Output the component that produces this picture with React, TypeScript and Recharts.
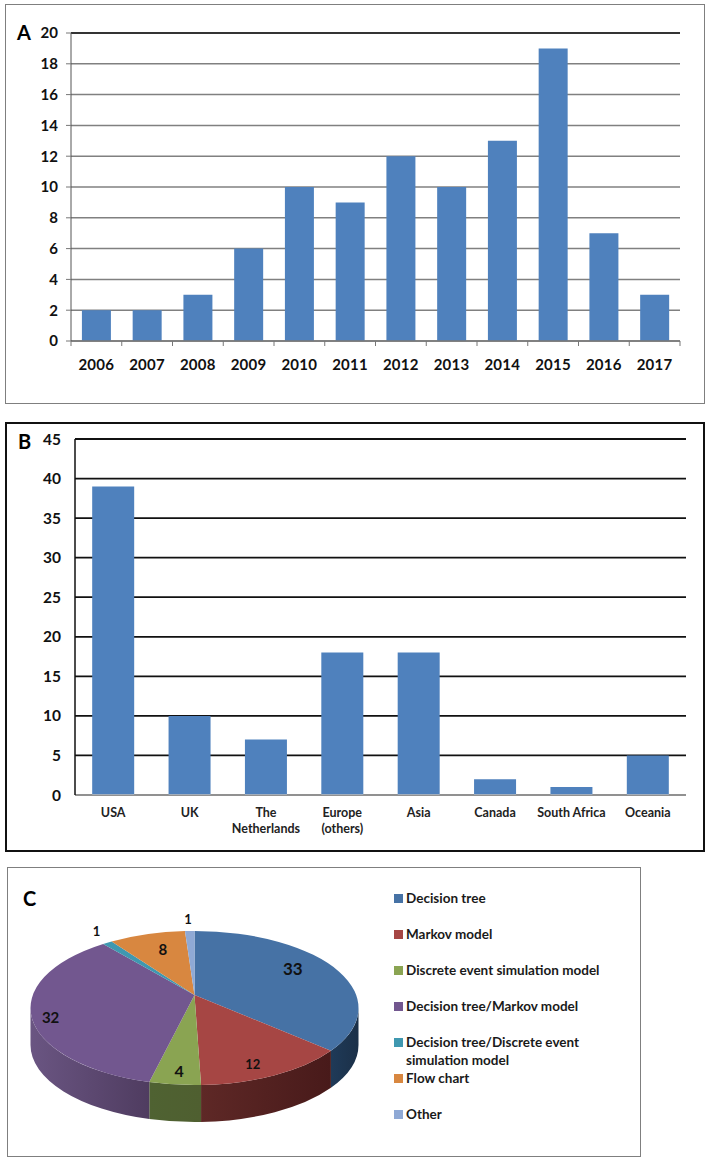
import React from "react";
import { BarChart, Bar, XAxis, YAxis, CartesianGrid, ReferenceLine, PieChart, Pie, Legend } from "recharts";

const yearCategories = ["2006","2007","2008","2009","2010","2011","2012","2013","2014","2015","2016","2017"];
const yearValues = [2,2,3,6,10,9,12,10,13,19,7,3];
const yearTicks = [0,2,4,6,8,10,12,14,16,18,20];

const regionCategories = ["USA","UK","The\nNetherlands","Europe\n(others)","Asia","Canada","South Africa","Oceania"];
const regionValues = [39,10,7,18,18,2,1,5];
const regionTicks = [0,5,10,15,20,25,30,35,40,45];

const modelNames = ["Decision tree","Markov model","Discrete event simulation model","Decision tree/Markov model","Decision tree/Discrete event simulation model","Flow chart","Other"];
const modelValues = [33,12,4,32,1,8,1];
const modelColors = ["#4672A5","#A64644","#8AA452","#72578F","#3F98B0","#D88740","#8FA9D5"];
const modelSideFrom = ["#1f3a58","#5e2826","#4f6232","#6a5582","#2a6676","#8a5526","#5f7295"];
const modelSideTo = ["#1b3048","#481a1a","#4f5f30","#4f3c60","#2a6676","#8a5526","#5f7295"];
const labelFactorX = [0.66,0.82,0.91,0.90,0.98,0.57,1.14];
const labelFactorY = [1.23,0.81,0.82,0.52,1.26,0.81,1.16];
const labelSizes = [17,13,16,15,13,15,13];

const yearData = yearCategories.map((c, i) => ({ c, v: yearValues[i] }));
const regionData = regionCategories.map((c, i) => ({ c, v: regionValues[i] }));
const modelData = modelNames.map((name, i) => ({ name, value: modelValues[i], fill: modelColors[i] }));

const FONT = "Lato, 'Open Sans', sans-serif";
const BLUE = "#4F81BD";
const W = 708;

const frame = (left: number, top: number, width: number, height: number, color: string, bw: number): React.CSSProperties => ({
  position: "absolute", left, top, width, height, border: `${bw}px solid ${color}`, boxSizing: "border-box",
});
const letter = (left: number, top: number): React.CSSProperties => ({
  position: "absolute", left, top, fontFamily: FONT, fontWeight: 700, fontSize: 20, lineHeight: "20px", color: "#000",
});

const YearTick = (p: any) => {
  const half = 609 / yearCategories.length / 2;
  return (
    <g>
      <line x1={p.x - half} x2={p.x - half} y1={p.y} y2={p.y + 5} stroke="#777" />
      {p.index === yearCategories.length - 1 && <line x1={p.x + half} x2={p.x + half} y1={p.y} y2={p.y + 5} stroke="#777" />}
      <text x={p.x} y={p.y + 29} textAnchor="middle" fontFamily={FONT} fontWeight={700} fontSize={15} letterSpacing={0.3} fill="#111">{p.payload.value}</text>
    </g>
  );
};

const RegionTick = (p: any) => {
  const lines = String(p.payload.value).split("\n");
  return (
    <text textAnchor="middle" fontFamily={FONT} fontWeight={700} fontSize={12.5} fill="#222">
      {lines.map((l, i) => <tspan key={i} x={p.x} y={p.y + 22 + i * 15.5}>{l}</tspan>)}
    </text>
  );
};

const RY_RATIO = 0.47;
const APEX_UP = 13;
const DEPTH = 37;
const PERSPECTIVE_DEG = 9;

// Perspective of the tilted disc: the near half of the pie looks wider than the far half.
const project = (t: number) => t - PERSPECTIVE_DEG * Math.sin((t * Math.PI) / 180);

const Slice3D = (p: any) => {
  const rx = p.outerRadius, ry = rx * RY_RATIO;
  const t0 = project(90 - p.startAngle), t1 = project(90 - p.endAngle);
  const pt = (t: number) => {
    const r = (t * Math.PI) / 180;
    return [p.cx + rx * Math.sin(r), p.cy - ry * Math.cos(r)];
  };
  const [sx, sy] = pt(t0);
  const [ex, ey] = pt(t1);
  const large = t1 - t0 > 180 ? 1 : 0;
  const a0 = Math.max(t0, 90), a1 = Math.min(t1, 270);
  const id = `side-${p.index}`;
  let side = null;
  if (a1 > a0) {
    const [bx, by] = pt(a0);
    const [fx, fy] = pt(a1);
    const l = a1 - a0 > 180 ? 1 : 0;
    side = (
      <>
        <defs>
          <linearGradient id={id} x1="0" x2="1" y1="0" y2="0">
            <stop offset="0" stopColor={modelSideFrom[p.index]} />
            <stop offset="1" stopColor={modelSideTo[p.index]} />
          </linearGradient>
        </defs>
        <path d={`M${bx},${by} A${rx},${ry} 0 ${l} 1 ${fx},${fy} L${fx},${fy + DEPTH} A${rx},${ry} 0 ${l} 0 ${bx},${by + DEPTH} Z`} fill={`url(#${id})`} />
      </>
    );
  }
  return (
    <g>
      {side}
      <path d={`M${p.cx},${p.cy - APEX_UP} L${sx},${sy} A${rx},${ry} 0 ${large} 1 ${ex},${ey} Z`} fill={p.fill} />
    </g>
  );
};

const sliceLabel = (p: any) => {
  const rx = p.outerRadius, ry = rx * RY_RATIO;
  const r = ((90 - p.midAngle) * Math.PI) / 180;
  const x = p.cx + labelFactorX[p.index] * rx * Math.sin(r);
  const y = p.cy - labelFactorY[p.index] * ry * Math.cos(r);
  return (
    <text x={x} y={y} textAnchor="middle" dominantBaseline="central" fontFamily={FONT} fontWeight={700} fontSize={labelSizes[p.index]} fill="#111">{p.value}</text>
  );
};

const LegendRows = ({ payload }: any) => (
  <div style={{ fontFamily: FONT, fontWeight: 700, fontSize: 13.5, lineHeight: "18px", color: "#1a1a1a" }}>
    {(payload || []).map((e: any, i: number) => (
      <div key={i} style={{ position: "relative", paddingLeft: 12, width: 212, height: 36 }}>
        <span style={{ position: "absolute", left: 0, top: 5, width: 8.5, height: 8.5, background: e.color }} />
        {e.value}
      </div>
    ))}
  </div>
);

export default function App() {
  return (
    <div style={{ position: "absolute", left: 0, top: 0, width: W, height: 1163, background: "#fff", overflow: "hidden" }}>
      <div style={frame(5, 4, 700, 400, "#7f7f7f", 1.5)} />
      <div style={frame(5, 422, 700, 430, "#111", 2)} />
      <div style={frame(7, 867, 634, 290, "#7f7f7f", 1.5)} />
      <div style={letter(17, 22)}>A</div>
      <div style={letter(18, 431)}>B</div>
      <div style={letter(23, 888)}>C</div>

      <div style={{ position: "absolute", left: 0, top: 0 }}>
        <BarChart width={W} height={410} data={yearData} margin={{ top: 33, right: 28, bottom: 0, left: 0 }} barCategoryGap="21.5%">
          <CartesianGrid vertical={false} stroke="#808080" strokeWidth={1.5} />
          <XAxis dataKey="c" interval={0} height={69} tickSize={0} tickMargin={0} axisLine={{ stroke: "#777", strokeWidth: 1.5 }} tickLine={false} tick={YearTick} />
          <YAxis width={71} domain={[0, 20]} ticks={yearTicks} interval={0} tickSize={5} tickMargin={8} axisLine={{ stroke: "#555" }} tickLine={{ stroke: "#777" }} tick={{ fontFamily: FONT, fontWeight: 700, fontSize: 15, fill: "#111" }} />
          <YAxis yAxisId="right" orientation="right" width={0} domain={[0, 20]} tick={false} tickLine={false} axisLine={{ stroke: "#222", strokeWidth: 1.5 }} />
          <ReferenceLine y={20} stroke="#111" strokeWidth={1.5} />
          <Bar dataKey="v" fill={BLUE} isAnimationActive={false} />
        </BarChart>
      </div>

      <div style={{ position: "absolute", left: 0, top: 410 }}>
        <BarChart width={W} height={450} data={regionData} margin={{ top: 29, right: 22, bottom: 0, left: 0 }} barCategoryGap="22.5%">
          <CartesianGrid vertical={false} stroke="#111" strokeWidth={1.8} />
          <XAxis dataKey="c" interval={0} height={65} tickSize={0} tickMargin={0} axisLine={{ stroke: "#bdbdbd", strokeWidth: 1.5 }} tickLine={false} tick={RegionTick} />
          <YAxis width={75} domain={[0, 45]} ticks={regionTicks} interval={0} tickSize={0} tickMargin={14} axisLine={{ stroke: "#111", strokeWidth: 1.5 }} tickLine={false} tick={{ fontFamily: FONT, fontWeight: 700, fontSize: 15.5, fill: "#111" }} />
          <YAxis yAxisId="right" orientation="right" width={0} domain={[0, 45]} tick={false} tickLine={false} axisLine={{ stroke: "#111", strokeWidth: 1.5 }} />
          <Bar dataKey="v" fill={BLUE} isAnimationActive={false} />
        </BarChart>
      </div>

      <div style={{ position: "absolute", left: 0, top: 860 }}>
        <PieChart width={W} height={303} margin={{ top: 0, right: 0, bottom: 0, left: 0 }}>
          <Pie data={modelData} dataKey="value" nameKey="name" cx={194.5} cy={148} outerRadius={164} startAngle={90} endAngle={-270} stroke="none" labelLine={false} label={sliceLabel} shape={Slice3D} isAnimationActive={false} />
          <Legend layout="vertical" align="right" verticalAlign="top" itemSorter={null} content={LegendRows} wrapperStyle={{ left: 394, right: "auto", top: 29, width: 240 }} />
        </PieChart>
      </div>
    </div>
  );
}
